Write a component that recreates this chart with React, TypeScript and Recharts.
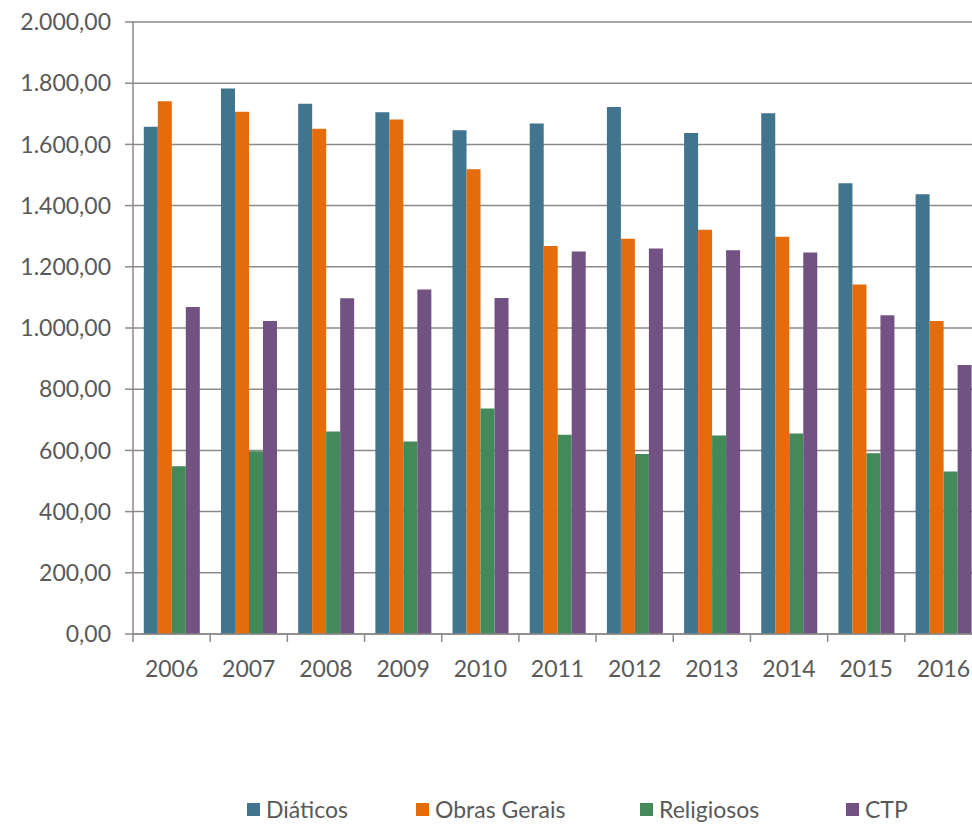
import { BarChart, Bar, XAxis, YAxis, CartesianGrid, Legend } from "recharts";

// anos
const years = ["2006", "2007", "2008", "2009", "2010", "2011", "2012", "2013", "2014", "2015", "2016"];

// valores
const diaticos = [1658, 1783, 1733, 1705, 1646, 1668, 1722, 1637, 1702, 1473, 1437];
const obrasGerais = [1741, 1707, 1651, 1681, 1519, 1268, 1292, 1321, 1298, 1142, 1023];
const religiosos = [548, 597, 662, 629, 737, 651, 588, 649, 655, 591, 531];
const ctp = [1069, 1023, 1097, 1126, 1098, 1250, 1260, 1254, 1247, 1042, 879];

const yTicks = [0, 200, 400, 600, 800, 1000, 1200, 1400, 1600, 1800, 2000];

const SERIES = [
  { key: "diaticos", name: "Diáticos", color: "#41748D", legendW: 169 },
  { key: "obras", name: "Obras Gerais", color: "#E46C0A", legendW: 224 },
  { key: "religiosos", name: "Religiosos", color: "#438959", legendW: 206 },
  { key: "ctp", name: "CTP", color: "#725283", legendW: 80 },
];

const data = years.map((ano, i) => ({
  ano,
  diaticos: diaticos[i],
  obras: obrasGerais[i],
  religiosos: religiosos[i],
  ctp: ctp[i],
}));

const FONT = "Lato, 'Open Sans', sans-serif";
const TEXT = "#595959";
const GRID = "#8a8a8a";

const CHART_W = 990;
const CHART_H = 824;
const MARGIN = { top: 22, right: 8, bottom: 0, left: 0 };
const Y_W = 133;
const STEP = (CHART_W - MARGIN.right - Y_W) / years.length;

const fmt = (v: number) =>
  v.toLocaleString("pt-BR", { minimumFractionDigits: 2, maximumFractionDigits: 2 });

function XTick(props: any) {
  const { x, y, payload } = props;
  const left = x - STEP / 2;
  return (
    <g>
      <line x1={left} y1={y - 8} x2={left} y2={y} stroke={GRID} strokeWidth={1.5} />
      <text x={x} y={y + 35} textAnchor="middle" fill={TEXT} fontSize={23} fontFamily={FONT}>
        {payload.value}
      </text>
    </g>
  );
}

function LegendBox() {
  return (
    <div style={{ display: "flex", alignItems: "center", paddingLeft: 247, fontFamily: FONT, fontSize: 23, color: TEXT }}>
      {SERIES.map((s) => (
        <div key={s.key} style={{ display: "flex", alignItems: "center", width: s.legendW, flexShrink: 0 }}>
          <span style={{ display: "inline-block", width: 13, height: 13, background: s.color, marginRight: 6 }} />
          <span>{s.name}</span>
        </div>
      ))}
    </div>
  );
}

export default function App() {
  return (
    <div style={{ position: "absolute", left: 0, top: 0, width: 972, height: 824, overflow: "hidden", background: "#fff" }}>
      <BarChart width={CHART_W} height={CHART_H} data={data} margin={MARGIN} barGap={0} barCategoryGap="14%">
        <CartesianGrid vertical={false} stroke={GRID} strokeWidth={1.5} />
        <XAxis
          dataKey="ano"
          axisLine={{ stroke: GRID, strokeWidth: 1.5 }}
          tickLine={false}
          tick={<XTick />}
          height={162}
          interval={0}
        />
        <YAxis
          width={Y_W}
          domain={[0, 2000]}
          ticks={yTicks}
          tickFormatter={fmt}
          axisLine={{ stroke: GRID, strokeWidth: 1.5 }}
          tickLine={{ stroke: GRID, strokeWidth: 1.5 }}
          tickSize={8}
          tickMargin={14}
          tick={{ fill: TEXT, fontSize: 23, fontFamily: FONT }}
        />
        <Legend
          verticalAlign="bottom"
          content={() => <LegendBox />}
          wrapperStyle={{ position: "absolute", left: 0, top: 795, width: 972 }}
        />
        {SERIES.map((s) => (
          <Bar key={s.key} dataKey={s.key} name={s.name} fill={s.color} isAnimationActive={false} />
        ))}
      </BarChart>
    </div>
  );
}
